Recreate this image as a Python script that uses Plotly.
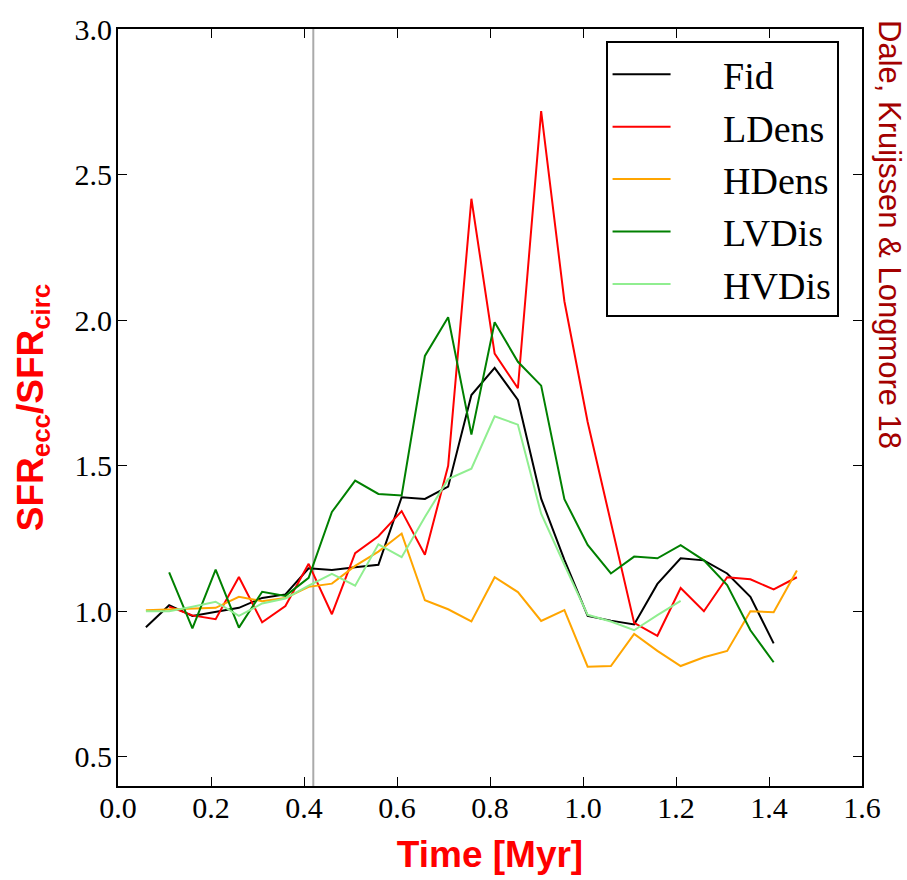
import plotly.graph_objects as go

# ---- data ----
t_fid = [0.06, 0.11, 0.16, 0.21, 0.26, 0.31, 0.36, 0.41, 0.46, 0.51, 0.56, 0.61, 0.66, 0.71, 0.76,
         0.81, 0.86, 0.91, 0.96, 1.01, 1.06, 1.11, 1.16, 1.21, 1.26, 1.31, 1.36, 1.41]
fid = [0.945, 1.021, 0.984, 0.999, 1.012, 1.046, 1.058, 1.148, 1.142, 1.151, 1.16, 1.392, 1.386, 1.428, 1.743,
       1.836, 1.726, 1.387, 1.177, 0.984, 0.968, 0.955, 1.094, 1.182, 1.175, 1.13, 1.05, 0.89]

t_ldens = [0.11, 0.16, 0.21, 0.26, 0.31, 0.36, 0.41, 0.46, 0.51, 0.56, 0.61, 0.66, 0.71, 0.76, 0.81,
           0.86, 0.91, 0.96, 1.01, 1.06, 1.11, 1.16, 1.21, 1.26, 1.31, 1.36, 1.41, 1.46]
ldens = [1.016, 0.986, 0.973, 1.118, 0.962, 1.018, 1.163, 0.99, 1.2, 1.258, 1.344, 1.194, 1.5, 2.417, 1.885,
         1.766, 2.718, 2.065, 1.65, 1.30, 0.96, 0.916, 1.08, 1.0, 1.117, 1.11, 1.075, 1.117]

t_hdens = [0.06, 0.11, 0.16, 0.21, 0.26, 0.31, 0.36, 0.41, 0.46, 0.51, 0.56, 0.61, 0.66, 0.71, 0.76,
           0.81, 0.86, 0.91, 0.96, 1.01, 1.06, 1.11, 1.16, 1.21, 1.26, 1.31, 1.36, 1.41, 1.46]
hdens = [1.004, 1.007, 1.009, 1.012, 1.05, 1.035, 1.046, 1.084, 1.095, 1.156, 1.205, 1.267, 1.038, 1.007, 0.965,
         1.117, 1.066, 0.967, 1.004, 0.81, 0.812, 0.922, 0.864, 0.812, 0.842, 0.864, 1.0, 0.997, 1.14]

t_lvdis = [0.11, 0.16, 0.21, 0.26, 0.31, 0.36, 0.41, 0.46, 0.51, 0.56, 0.61, 0.66, 0.71, 0.76, 0.81,
           0.86, 0.91, 0.96, 1.01, 1.06, 1.11, 1.16, 1.21, 1.26, 1.31, 1.36, 1.41]
lvdis = [1.134, 0.941, 1.143, 0.944, 1.067, 1.053, 1.115, 1.341, 1.449, 1.403, 1.398, 1.877, 2.01, 1.607, 1.993,
         1.857, 1.775, 1.385, 1.228, 1.13, 1.188, 1.182, 1.227, 1.175, 1.09, 0.935, 0.825]

t_hvdis = [0.06, 0.11, 0.16, 0.21, 0.26, 0.31, 0.36, 0.41, 0.46, 0.51, 0.56, 0.61, 0.66, 0.71, 0.76,
           0.81, 0.86, 0.91, 0.96, 1.01, 1.06, 1.11, 1.16, 1.21]
hvdis = [1.0, 1.0, 1.016, 1.033, 0.984, 1.027, 1.044, 1.088, 1.129, 1.088, 1.23, 1.186, 1.324, 1.454, 1.49,
         1.67, 1.641, 1.335, 1.16, 0.988, 0.965, 0.935, 0.987, 1.036]

series = [
    ("Fid", t_fid, fid, "black"),
    ("LDens", t_ldens, ldens, "#ff0000"),
    ("HDens", t_hdens, hdens, "#ffa500"),
    ("LVDis", t_lvdis, lvdis, "#008000"),
    ("HVDis", t_hvdis, hvdis, "#90ee90"),
]
vline_t = 0.42

NBSP = "\u00a0"
fig = go.Figure()
for name, t, v, c in series:
    fig.add_trace(go.Scatter(x=t, y=v, mode="lines", name=NBSP * 5 + name, legendgroup=name,
                             line=dict(color=c, width=2)))

fig.add_shape(type="line", x0=vline_t, x1=vline_t, y0=0, y1=1, xref="x", yref="paper",
              line=dict(color="#aaaaaa", width=2), layer="below")

tickfont = dict(family="Liberation Serif", size=30, color="black")
axis_common = dict(showline=True, linecolor="black", linewidth=2, mirror="allticks",
                   ticks="inside", ticklen=9, tickwidth=1, tickcolor="black",
                   showgrid=False, zeroline=False, tickfont=tickfont)
title_font = dict(family="Liberation Sans Narrow, Liberation Sans", size=37, color="#ff0000")

fig.update_layout(
    width=907, height=880,
    margin=dict(l=118, r=45, t=24, b=91),
    plot_bgcolor="white", paper_bgcolor="white",
    xaxis=dict(range=[0, 1.6], tickvals=[0, 0.2, 0.4, 0.6, 0.8, 1.0, 1.2, 1.4, 1.6],
               ticktext=["0.0", "0.2", "0.4", "0.6", "0.8", "1.0", "1.2", "1.4", "1.6"],
               ticklabelstandoff=-6,
               title=dict(text="<b>Time [Myr]</b>", standoff=18, font=title_font),
               **axis_common),
    yaxis=dict(range=[0.4, 3.0], tickvals=[0.5, 1.0, 1.5, 2.0, 2.5, 3.0],
               ticktext=["0.5", "1.0", "1.5", "2.0", "2.5", "3.0"],
               ticklabelstandoff=-2,
               title=dict(text="<b>SFR<sub>ecc</sub>/SFR<sub>circ</sub></b>", standoff=20, font=title_font),
               **axis_common),
    legend=dict(x=0.9685, y=0.984, xanchor="right", yanchor="top",
                bordercolor="black", borderwidth=2, bgcolor="white",
                font=dict(family="Liberation Serif", size=38, color="black"),
                itemwidth=58, tracegroupgap=0, traceorder="grouped"),
    showlegend=True,
    annotations=[dict(text="Dale, Kruijssen & Longmore 18", textangle=90,
                      xref="paper", yref="paper", x=1.0, y=1.0145, xanchor="left", yanchor="top",
                      xshift=8, showarrow=False,
                      font=dict(family="Liberation Sans", size=31, color="#a30000"))],
)

fig.write_html("out.html")
